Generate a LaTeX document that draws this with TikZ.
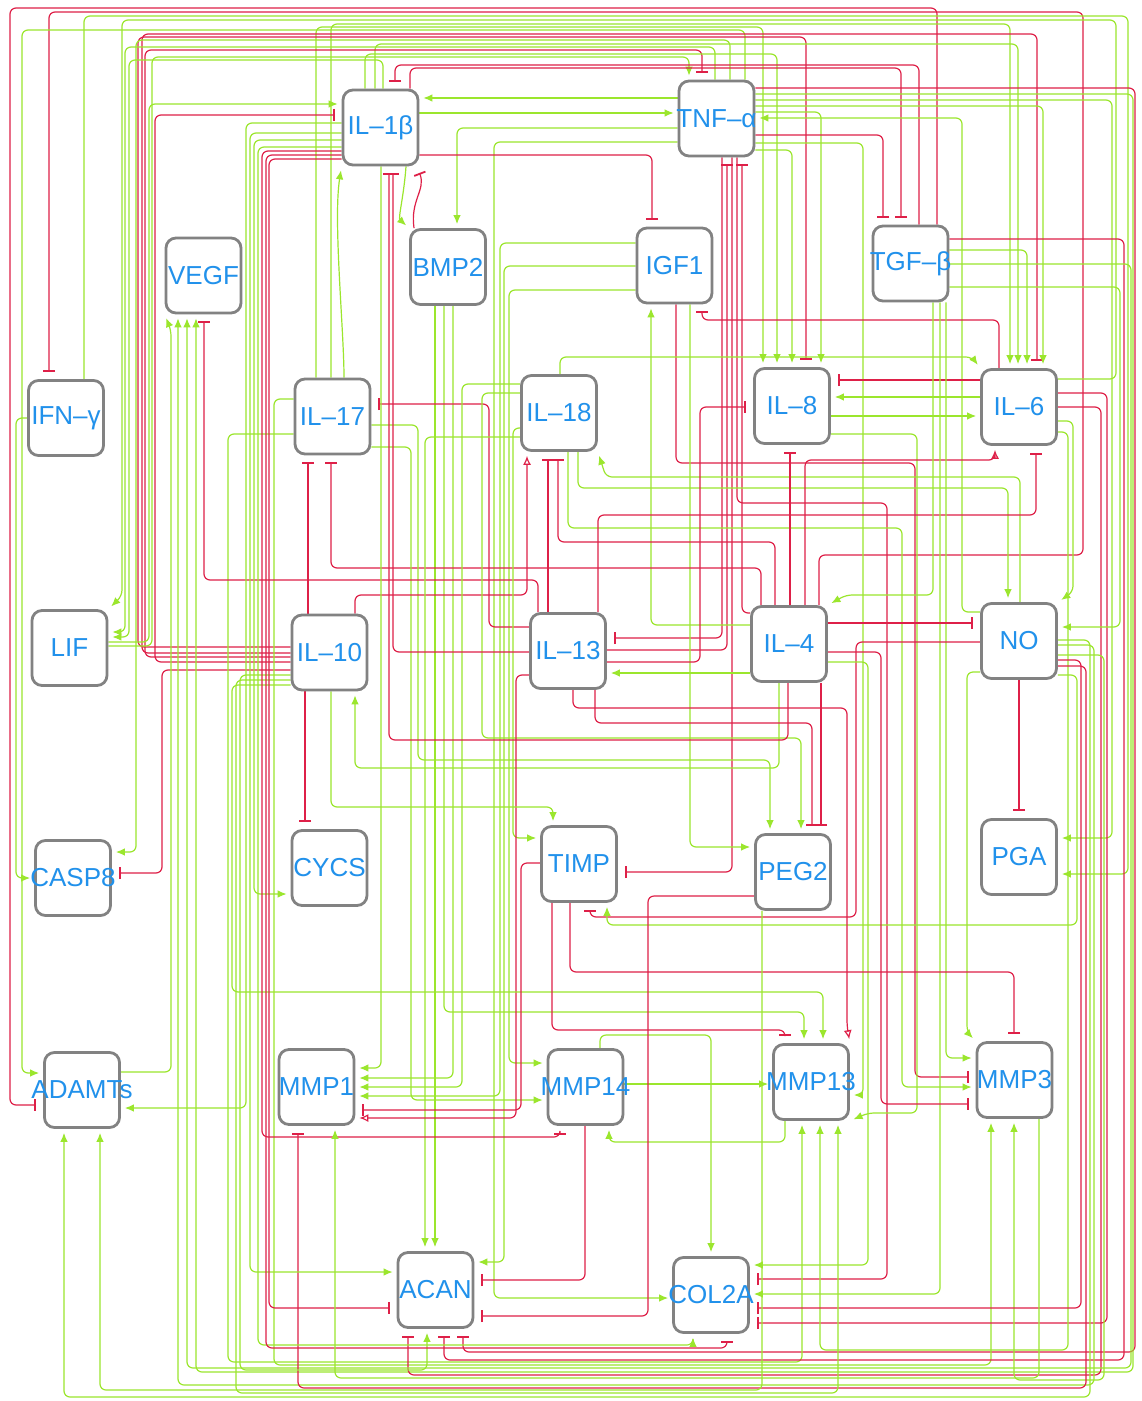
\documentclass[tikz,border=0pt]{standalone}
\usepackage{fontspec}
\setmainfont{Liberation Sans}
\usetikzlibrary{arrows.meta}
\definecolor{gr}{RGB}{155,230,45}
\definecolor{rd}{RGB}{222,32,72}
\definecolor{tb}{RGB}{33,145,235}
\definecolor{bx}{RGB}{130,130,130}
\pgfdeclarelayer{bg}
\pgfsetlayers{bg,main}
\tikzset{
 box/.style={draw=bx,line width=1.4pt,fill=white,rounded corners=5pt,minimum width=37.5pt,minimum height=37.5pt,inner sep=0pt},
 lbl/.style={text=tb,font=\fontsize{13}{15}\selectfont,inner sep=0pt},
 ga/.style={draw=gr,line width=0.6pt,rounded corners=3pt,-{Latex[length=4.5pt,width=3.8pt]},shorten >=2pt},
 ri/.style={draw=rd,line width=0.6pt,rounded corners=3pt,-{Bar[width=6pt,line width=0.9pt]},shorten >=3.5pt},
 ro/.style={draw=rd,line width=0.6pt,rounded corners=3pt,-{Latex[open,length=4.5pt,width=4pt]},shorten >=2pt},
}
\begin{document}
\begin{tikzpicture}[x=0.5pt,y=-0.5pt]
\useasboundingbox (0,0) rectangle (1141,1401);
% nodes
\node[box,label={[lbl]center:IL–1β}] (il1b) at (380.5,127.5) {};
\node[box,label={[lbl]center:TNF–α}] (tnf) at (716.5,118.5) {};
\node[box,label={[lbl]center:BMP2}] (bmp2) at (448,267) {};
\node[box,label={[lbl]center:IGF1}] (igf1) at (674.5,265.5) {};
\node[box,label={[lbl]center:TGF–β}] (tgfb) at (910.5,263.5) {};
\node[box,label={[lbl]center:VEGF}] (vegf) at (203.5,275.5) {};
\node[box,label={[lbl]center:IFN–γ}] (ifng) at (66,418) {};
\node[box,label={[lbl]center:IL–17}] (il17) at (332.5,416.5) {};
\node[box,label={[lbl]center:IL–18}] (il18) at (559,413) {};
\node[box,label={[lbl]center:IL–8}] (il8) at (792,406) {};
\node[box,label={[lbl]center:IL–6}] (il6) at (1019,407) {};
\node[box,label={[lbl]center:LIF}] (lif) at (69.5,648) {};
\node[box,label={[lbl]center:IL–10}] (il10) at (329.5,652.5) {};
\node[box,label={[lbl]center:IL–13}] (il13) at (568,651) {};
\node[box,label={[lbl]center:IL–4}] (il4) at (789,644) {};
\node[box,label={[lbl]center:NO}] (no) at (1019,641) {};
\node[box,label={[lbl]center:CASP8}] (casp8) at (73,878) {};
\node[box,label={[lbl]center:CYCS}] (cycs) at (329.5,868) {};
\node[box,label={[lbl]center:TIMP}] (timp) at (579,864) {};
\node[box,label={[lbl]center:PEG2}] (peg2) at (793,872) {};
\node[box,label={[lbl]center:PGA}] (pga) at (1019,857) {};
\node[box,label={[lbl]center:ADAMTs}] (adamts) at (82,1090) {};
\node[box,label={[lbl]center:MMP1}] (mmp1) at (316.5,1087) {};
\node[box,label={[lbl]center:MMP14}] (mmp14) at (585.5,1087) {};
\node[box,label={[lbl]center:MMP13}] (mmp13) at (811,1082) {};
\node[box,label={[lbl]center:MMP3}] (mmp3) at (1014.5,1080) {};
\node[box,label={[lbl]center:ACAN}] (acan) at (435.5,1290) {};
\node[box,label={[lbl]center:COL2A}] (col2a) at (711,1295) {};
\begin{pgfonlayer}{bg}
\fill[white] (0,0) rectangle (1141,1401);
% ---- top lanes ----
\draw[ri] (tgfb.north -| 937,0) -- (937,8) -- (10,8) -- (10,1105) -- (adamts.west |- 0,1105);
\draw[ri] (il4.north -| 819,0) -- (819,555) -- (1083,555) -- (1083,12) -- (49,12) -- (ifng.north -| 49,0);
\draw[ga] (ifng.north -| 84,0) -- (84,16) -- (1128,16) -- (1128,874) -- (pga.east |- 0,874);
\draw[ga] (ifng.west |- 0,418) -- (16,418) -- (16,878) -- (casp8.west |- 0,878);
\draw[ga] (il6.east |- 0,379) -- (1116,379) -- (1116,20) -- (122,20) -- (122,596) -- (lif.north east);
\draw[ga] (il17.north -| 331,0) -- (331,24) -- (1010,24) -- (il6.north -| 1010,0);
\draw[ga] (il17.north -| 316,0) -- (316,27) -- (763,27) -- (il8.north -| 763,0);
\draw[ga] (tnf.north -| 745,0) -- (745,30) -- (22,30) -- (22,1073) -- (adamts.west |- 0,1073);
\draw[ri] (il10.west |- 0,653) -- (142,653) -- (142,34) -- (1037,34) -- (il6.north -| 1037,0);
\draw[ri] (il10.west |- 0,647) -- (138,647) -- (138,37) -- (806,37) -- (il8.north -| 806,0);
\draw[ga] (tnf.north -| 730,0) -- (730,40) -- (136,40) -- (136,852) -- (casp8.east |- 0,852);
\draw[ga] (il1b.north -| 375,0) -- (375,44) -- (1018,44) -- (il6.north -| 1018,0);
\draw[ga] (tnf.north -| 715,0) -- (715,47) -- (125,47) -- (125,632) -- (lif.east |- 0,632);
\draw[ri] (il10.west |- 0,657) -- (145,657) -- (145,50) -- (702,50) -- (tnf.north -| 702,0);
\draw[ga] (il1b.north -| 365,0) -- (365,54) -- (777,54) -- (il8.north -| 777,0);
\draw[ga] (lif.east |- 0,646) -- (152,646) -- (152,57) -- (689,57) -- (tnf.north -| 689,0);
\draw[ga] (il1b.north -| 383,0) -- (383,60) -- (129,60) -- (129,637) -- (lif.east |- 0,637);
\draw[ri] (tgfb.north -| 919,0) -- (919,65) -- (395,65) -- (il1b.north -| 395,0);
\draw[ri] (il1b.north -| 410,0) -- (410,68) -- (901,68) -- (tgfb.north -| 901,0);
\draw[ri] (il10.west |- 0,662) -- (155,662) -- (155,115) -- (il1b.west |- 0,115);
\draw[ga] (lif.east |- 0,642) -- (149,642) -- (149,104) -- (il1b.west |- 0,104);
\draw[ri] (il10.west |- 0,670) -- (162,670) -- (162,873) -- (casp8.east |- 0,873);
% ---- IL-1b / TNF ----
\draw[ga] (tnf.west |- 0,98) -- (il1b.east |- 0,98);
\draw[ga] (il1b.east |- 0,113) -- (tnf.west |- 0,113);
\draw[ga] (tnf.west |- 0,128) -- (457,128) -- (bmp2.north -| 457,0);
\draw[ga] (tnf.west |- 0,142) -- (494,142) -- (494,1298) -- (col2a.west |- 0,1298);
\draw[ri] (il1b.east |- 0,155) -- (652,155) -- (igf1.north -| 652,0);
\draw[ri] (tnf.east |- 0,88) -- (1135,88) -- (1135,1352) -- (463,1352) -- (acan.south -| 463,0);
\draw[ga] (tnf.east |- 0,94) -- (1133,94) -- (1133,1372) -- (196,1372) -- (vegf.south -| 196,0);
\draw[ga] (tnf.east |- 0,100) -- (1112,100) -- (1112,838) -- (pga.east |- 0,838);
\draw[ga] (tnf.east |- 0,106) -- (1043,106) -- (il6.north -| 1043,0);
\draw[ga] (tnf.east |- 0,112) -- (821,112) -- (il8.north -| 821,0);
\draw[ga] (no.west |- 0,612) -- (962,612) -- (962,118) -- (tnf.east |- 0,118);
\draw[ri] (tnf.east |- 0,135) -- (883,135) -- (tgfb.north -| 883,0);
\draw[ga] (tnf.east |- 0,143) -- (863,143) -- (863,1095) -- (mmp13.east |- 0,1095);
\draw[ga] (tnf.east |- 0,150) -- (792,150) -- (il8.north -| 792,0);
\draw[ri] (il13.east |- 0,650) -- (727,650) -- (tnf.south -| 727,0);
\draw[ri] (tnf.south -| 722,0) -- (722,638) -- (il13.east |- 0,638);
\draw[ri] (tnf.south -| 732,0) -- (732,872) -- (timp.east |- 0,872);
\draw[ri] (tnf.south -| 737,0) -- (737,503) -- (887,503) -- (887,1279) -- (col2a.east |- 0,1279);
\draw[ri] (il4.west |- 0,613) -- (742,613) -- (tnf.south -| 742,0);
% ---- IGF1 / BMP2 ----
\draw[ga] (il4.west |- 0,625) -- (651,625) -- (igf1.south -| 651,0);
\draw[ri] (igf1.south -| 676,0) -- (676,463) -- (915,463) -- (915,1077) -- (mmp3.west |- 0,1077);
\draw[ri] (il6.north -| 999,0) -- (999,320) -- (702,320) -- (igf1.south -| 702,0);
\draw[ga] (igf1.west |- 0,243) -- (500,243) -- (500,1096) -- (mmp1.east |- 0,1096);
\draw[ga] (igf1.west |- 0,266) -- (504,266) -- (504,1262) -- (acan.east |- 0,1262);
\draw[ga] (igf1.west |- 0,290) -- (509,290) -- (509,1063) -- (mmp14.west |- 0,1063);
\draw[ga] (igf1.south -| 690,0) -- (690,847) -- (peg2.west |- 0,847);
\draw[ga] (bmp2.south -| 435,0) -- (acan.north -| 435,0);
\draw[ga] (bmp2.south -| 444,0) -- (444,1012) -- (804,1012) -- (mmp13.north -| 804,0);
\draw[ga] (bmp2.south -| 453,0) -- (453,1078) -- (mmp1.east |- 0,1078);
\draw[ri] (bmp2.north -| 414,0) .. controls (410,200) and (426,190) .. (il1b.south -| 417,0);
\draw[ga] (il1b.south -| 406,0) .. controls (404,195) and (398,218) .. (bmp2.north west);
% ---- IL-17 ----
\draw[ga] (il17.north -| 344,0) .. controls (344,330) and (333,220) .. (il1b.south west);
\draw[ri] (il10.north -| 308,0) -- (il17.south -| 308,0);
\draw[ri] (il4.north -| 761,0) -- (761,568) -- (331,568) -- (il17.south -| 331,0);
\draw[ri] (il13.west |- 0,627) -- (489,627) -- (489,404) -- (il17.east |- 0,404);
\draw[ga] (il17.east |- 0,447) -- (411,447) -- (411,1100) -- (mmp14.west |- 0,1100);
\draw[ga] (il17.east |- 0,425) -- (418,425) -- (418,760) -- (770,760) -- (peg2.north -| 770,0);
\draw[ga] (il17.west |- 0,434) -- (228,434) -- (228,1362) -- (802,1362) -- (mmp13.south -| 802,0);
\draw[ga] (il17.west |- 0,399) -- (274,399) -- (274,1365) -- (991,1365) -- (mmp3.south -| 991,0);
% ---- IL-18 ----
\draw[ga] (il18.north -| 560,0) -- (560,357) -- (972,357) -- (il6.north west);
\draw[ri] (il13.north -| 548,0) -- (il18.south -| 548,0);
\draw[ri] (il4.north -| 775,0) -- (775,542) -- (558,542) -- (il18.south -| 558,0);
\draw[ro] (il10.north -| 355,0) -- (355,595) -- (527,595) -- (il18.south -| 527,0);
\draw[ri] (il13.north -| 538,0) -- (538,580) -- (204,580) -- (vegf.south -| 204,0);
\draw[ga] (il18.south -| 578,0) -- (578,488) -- (1008,488) -- (no.north -| 1008,0);
\draw[ga] (no.north -| 1020,0) -- (1020,477) -- (606,477) -- (il18.south east);
\draw[ga] (il18.south -| 568,0) -- (568,528) -- (902,528) -- (902,1087) -- (mmp3.west |- 0,1087);
\draw[ga] (il18.west |- 0,384) -- (462,384) -- (462,1087) -- (mmp1.east |- 0,1087);
\draw[ga] (il18.west |- 0,393) -- (482,393) -- (482,738) -- (801,738) -- (peg2.north -| 801,0);
\draw[ga] (il18.west |- 0,428) -- (513,428) -- (513,838) -- (timp.west |- 0,838);
\draw[ga] (il18.west |- 0,437) -- (425,437) -- (acan.north -| 425,0);
% ---- IL-8 / IL-6 ----
\draw[ri] (il13.east |- 0,662) -- (700,662) -- (700,407) -- (il8.west |- 0,407);
\draw[ri] (il6.west |- 0,380) -- (il8.east |- 0,380);
\draw[ga] (il6.west |- 0,397) -- (il8.east |- 0,397);
\draw[ga] (il8.east |- 0,416) -- (il6.west |- 0,416);
\draw[ga] (il8.east |- 0,434) -- (917,434) -- (917,1113) -- (868,1113) -- (mmp13.south east);
\draw[ri] (il4.north -| 790,0) -- (il8.south -| 790,0);
\draw[ro] (il4.north -| 805,0) -- (805,460) -- (995,460) -- (il6.south -| 995,0);
\draw[ri] (il13.north -| 598,0) -- (598,515) -- (1036,515) -- (il6.south -| 1036,0);
\draw[ri] (il6.east |- 0,393) -- (1107,393) -- (1107,1323) -- (col2a.east |- 0,1323);
\draw[ri] (il6.east |- 0,407) -- (1101,407) -- (1101,1375) -- (408,1375) -- (acan.south -| 408,0);
\draw[ga] (il6.east |- 0,421) -- (1073,421) -- (1073,592) -- (no.north east);
\draw[ga] (il6.east |- 0,432) -- (1068,432) -- (1068,1350) -- (820,1350) -- (mmp13.south -| 820,0);
% ---- TGF-b ----
\draw[ri] (tgfb.east |- 0,239) -- (1124,239) -- (1124,1360) -- (444,1360) -- (acan.south -| 444,0);
\draw[ga] (tgfb.east |- 0,250) -- (1027,250) -- (il6.north -| 1027,0);
\draw[ga] (tgfb.east |- 0,264) -- (1131,264) -- (1131,1368) -- (187,1368) -- (vegf.south -| 187,0);
\draw[ga] (tgfb.east |- 0,287) -- (1120,287) -- (1120,627) -- (no.east |- 0,627);
\draw[ga] (tgfb.south -| 933,0) -- (933,595) -- (846,595) -- (il4.north east);
\draw[ga] (tgfb.south -| 940,0) -- (940,1294) -- (col2a.east |- 0,1294);
\draw[ga] (tgfb.south -| 946,0) -- (946,1058) -- (mmp3.west |- 0,1058);
% ---- NO ----
\draw[ri] (il4.east |- 0,623) -- (no.west |- 0,623);
\draw[ri] (no.west |- 0,642) -- (856,642) -- (856,917) -- (590,917) -- (timp.south -| 590,0);
\draw[ri] (no.south) -- (pga.north);
\draw[ga] (no.east |- 0,675) -- (1077,675) -- (1077,925) -- (607,925) -- (timp.south -| 607,0);
\draw[ga] (no.west |- 0,672) -- (967,672) -- (967,1032) -- (mmp3.north west);
\draw[ga] (no.east |- 0,640) -- (1090,640) -- (1090,1397) -- (64,1397) -- (adamts.south -| 64,0);
\draw[ga] (no.east |- 0,645) -- (1094,645) -- (1094,1385) -- (178,1385) -- (vegf.south -| 178,0);
\draw[ga] (no.east |- 0,655) -- (1104,655) -- (1104,1380) -- (1014,1380) -- (mmp3.south -| 1014,0);
\draw[ri] (no.east |- 0,660) -- (1081,660) -- (1081,1308) -- (col2a.east |- 0,1308);
\draw[ri] (no.east |- 0,666) -- (1086,666) -- (1086,1388) -- (298,1388) -- (mmp1.south -| 298,0);
% ---- IL-4 ----
\draw[ga] (il4.west |- 0,673) -- (il13.east |- 0,673);
\draw[ri] (il4.east |- 0,652) -- (881,652) -- (881,1104) -- (mmp3.west |- 0,1104);
\draw[ga] (il4.east |- 0,662) -- (868,662) -- (868,1265) -- (col2a.east |- 0,1265);
\draw[ga] (il4.south -| 779,0) -- (779,768) -- (355,768) -- (il10.south -| 355,0);
\draw[ri] (il4.south -| 788,0) -- (788,740) -- (389,740) -- (il1b.south -| 389,0);
\draw[ri] (il4.south -| 821,0) -- (peg2.north -| 821,0);
% ---- IL-13 ----
\draw[ri] (il13.west |- 0,652) -- (393,652) -- (il1b.south -| 393,0);
\draw[ro] (il13.west |- 0,675) -- (516,675) -- (516,1118) -- (mmp1.east |- 0,1118);
\draw[ro] (il13.south -| 573,0) -- (573,708) -- (847,708) -- (847,1026) -- (mmp13.north east);
\draw[ri] (il13.south -| 595,0) -- (595,723) -- (812,723) -- (peg2.north -| 812,0);
% ---- IL-10 ----
\draw[ri] (il10.south -| 305,0) -- (cycs.north -| 305,0);
\draw[ga] (il10.south -| 331,0) -- (331,807) -- (553,807) -- (timp.north -| 553,0);
\draw[ga] (il10.west |- 0,675) -- (240,675) -- (240,1370) -- (427,1370) -- (acan.south -| 427,0);
\draw[ga] (il10.west |- 0,680) -- (236,680) -- (236,1393) -- (838,1393) -- (mmp13.south -| 838,0);
\draw[ga] (il10.west |- 0,685) -- (232,685) -- (232,992) -- (823,992) -- (mmp13.north -| 823,0);
% ---- IL-1b left ----
\draw[ga] (il1b.west |- 0,123) -- (246,123) -- (246,1108) -- (adamts.east |- 0,1108);
\draw[ga] (il1b.west |- 0,133) -- (250,133) -- (250,1272) -- (acan.west |- 0,1272);
\draw[ga] (il1b.west |- 0,140) -- (254,140) -- (254,894) -- (cycs.west |- 0,894);
\draw[ga] (il1b.west |- 0,147) -- (258,147) -- (258,1345) -- (693,1345) -- (col2a.south -| 693,0);
\draw[ri] (il1b.west |- 0,151) -- (262,151) -- (262,1137) -- (560,1137) -- (mmp14.south -| 560,0);
\draw[ri] (il1b.west |- 0,155) -- (266,155) -- (266,1348) -- (727,1348) -- (col2a.south -| 727,0);
\draw[ri] (il1b.west |- 0,159) -- (269,159) -- (269,1308) -- (acan.west |- 0,1308);
\draw[ga] (il1b.south -| 381,0) -- (381,1068) -- (mmp1.east |- 0,1068);
\draw[ga] (adamts.east |- 0,1072) -- (171,1072) -- (171,330) -- (vegf.south west);
% ---- lower ----
\draw[ri] (timp.west |- 0,863) -- (521,863) -- (521,1110) -- (mmp1.east |- 0,1110);
\draw[ri] (timp.south -| 552,0) -- (552,1030) -- (785,1030) -- (mmp13.north -| 785,0);
\draw[ri] (timp.south -| 570,0) -- (570,972) -- (1014,972) -- (mmp3.north -| 1014,0);
\draw[ga] (mmp14.east |- 0,1084) -- (mmp13.west |- 0,1084);
\draw[ga] (mmp13.south -| 785,0) -- (785,1142) -- (609,1142) -- (mmp14.south -| 609,0);
\draw[ri] (mmp14.south -| 585,0) -- (585,1280) -- (acan.east |- 0,1280);
\draw[ga] (mmp14.north -| 600,0) -- (600,1035) -- (711,1035) -- (col2a.north -| 711,0);
\draw[ri] (peg2.west |- 0,896) -- (648,896) -- (648,1316) -- (acan.east |- 0,1316);
\draw[ga] (peg2.south -| 762,0) -- (762,1390) -- (100,1390) -- (adamts.south -| 100,0);
\draw[ga] (mmp3.south -| 1039,0) -- (1039,1378) -- (335,1378) -- (mmp1.south -| 335,0);
\end{pgfonlayer}
\end{tikzpicture}
\end{document}
